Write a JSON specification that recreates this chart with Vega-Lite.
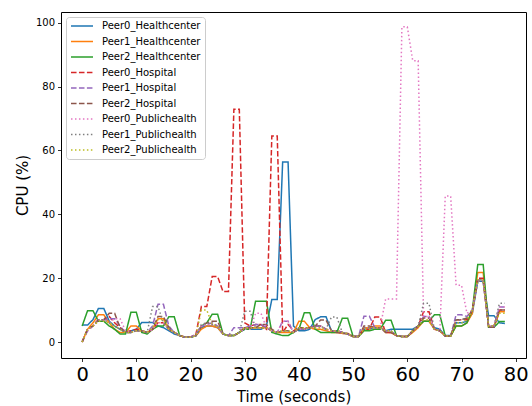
{
  "$schema": "https://vega.github.io/schema/vega-lite/v6.json",
  "width": 465,
  "height": 346,
  "autosize": {"type": "none"},
  "padding": {"left": 61, "top": 12, "right": 6, "bottom": 48},
  "background": "white",
  "config": {
    "font": "DejaVu Sans",
    "view": {"stroke": "black", "strokeWidth": 1},
    "axis": {"domain": false, "grid": false, "tickColor": "black", "tickWidth": 0.8, "tickSize": 3.5, "labelColor": "black", "titleColor": "black", "labelFont": "DejaVu Sans", "titleFont": "DejaVu Sans", "titleFontWeight": "normal", "labelOverlap": false, "labelFlush": false},
    "legend": {"orient": "top-left", "offset": 5, "title": null, "labelFont": "DejaVu Sans", "labelFontSize": 10, "labelColor": "black", "symbolType": "stroke", "symbolSize": 484, "symbolStrokeWidth": 1.5, "labelOffset": 8, "padding": 4, "rowPadding": 5.5, "clipHeight": 10, "fillColor": "rgba(255,255,255,0.8)", "strokeColor": "#cccccc", "cornerRadius": 3}
  },
  "data": {"values": [
    {"t":0,"Peer0_Healthcenter":5.3,"Peer1_Healthcenter":0,"Peer2_Healthcenter":5,"Peer0_Hospital":0,"Peer1_Hospital":0,"Peer2_Hospital":0,"Peer0_Publichealth":0,"Peer1_Publichealth":0,"Peer2_Publichealth":0},
    {"t":1,"Peer0_Healthcenter":5.3,"Peer1_Healthcenter":4,"Peer2_Healthcenter":9.8,"Peer0_Hospital":4,"Peer1_Hospital":3.5,"Peer2_Hospital":4,"Peer0_Publichealth":3.5,"Peer1_Publichealth":4,"Peer2_Publichealth":4},
    {"t":2,"Peer0_Healthcenter":7,"Peer1_Healthcenter":6,"Peer2_Healthcenter":9.8,"Peer0_Hospital":5,"Peer1_Hospital":5,"Peer2_Hospital":5,"Peer0_Publichealth":5,"Peer1_Publichealth":5,"Peer2_Publichealth":5},
    {"t":3,"Peer0_Healthcenter":10.5,"Peer1_Healthcenter":8.5,"Peer2_Healthcenter":6.5,"Peer0_Hospital":7,"Peer1_Hospital":7,"Peer2_Hospital":7,"Peer0_Publichealth":7,"Peer1_Publichealth":7,"Peer2_Publichealth":6.5},
    {"t":4,"Peer0_Healthcenter":10.5,"Peer1_Healthcenter":8.5,"Peer2_Healthcenter":6.5,"Peer0_Hospital":7,"Peer1_Hospital":7,"Peer2_Hospital":7,"Peer0_Publichealth":7,"Peer1_Publichealth":7,"Peer2_Publichealth":6.5},
    {"t":5,"Peer0_Healthcenter":6.5,"Peer1_Healthcenter":6,"Peer2_Healthcenter":5,"Peer0_Hospital":8,"Peer1_Hospital":7.3,"Peer2_Hospital":9,"Peer0_Publichealth":6,"Peer1_Publichealth":6,"Peer2_Publichealth":6},
    {"t":6,"Peer0_Healthcenter":5,"Peer1_Healthcenter":4,"Peer2_Healthcenter":4,"Peer0_Hospital":6,"Peer1_Hospital":7.3,"Peer2_Hospital":9,"Peer0_Publichealth":7.3,"Peer1_Publichealth":5,"Peer2_Publichealth":5},
    {"t":7,"Peer0_Healthcenter":4,"Peer1_Healthcenter":3,"Peer2_Healthcenter":2.5,"Peer0_Hospital":4.5,"Peer1_Hospital":5,"Peer2_Hospital":4.5,"Peer0_Publichealth":7.3,"Peer1_Publichealth":4,"Peer2_Publichealth":4},
    {"t":8,"Peer0_Healthcenter":3,"Peer1_Healthcenter":3,"Peer2_Healthcenter":2.5,"Peer0_Hospital":3,"Peer1_Hospital":3,"Peer2_Hospital":3,"Peer0_Publichealth":3.5,"Peer1_Publichealth":3,"Peer2_Publichealth":3},
    {"t":9,"Peer0_Healthcenter":3.5,"Peer1_Healthcenter":5,"Peer2_Healthcenter":9.3,"Peer0_Hospital":3.5,"Peer1_Hospital":3,"Peer2_Hospital":3,"Peer0_Publichealth":3,"Peer1_Publichealth":3,"Peer2_Publichealth":3},
    {"t":10,"Peer0_Healthcenter":4,"Peer1_Healthcenter":5,"Peer2_Healthcenter":9.3,"Peer0_Hospital":4,"Peer1_Hospital":3.5,"Peer2_Hospital":3.5,"Peer0_Publichealth":3.5,"Peer1_Publichealth":3.5,"Peer2_Publichealth":3.5},
    {"t":11,"Peer0_Healthcenter":6.1,"Peer1_Healthcenter":3.5,"Peer2_Healthcenter":3,"Peer0_Hospital":3.5,"Peer1_Hospital":3.5,"Peer2_Hospital":3.5,"Peer0_Publichealth":3.5,"Peer1_Publichealth":3.5,"Peer2_Publichealth":3.5},
    {"t":12,"Peer0_Healthcenter":6.1,"Peer1_Healthcenter":3,"Peer2_Healthcenter":2.5,"Peer0_Hospital":3,"Peer1_Hospital":3,"Peer2_Hospital":3,"Peer0_Publichealth":3,"Peer1_Publichealth":3,"Peer2_Publichealth":3},
    {"t":13,"Peer0_Healthcenter":6.1,"Peer1_Healthcenter":4,"Peer2_Healthcenter":4,"Peer0_Hospital":4,"Peer1_Hospital":5,"Peer2_Hospital":4,"Peer0_Publichealth":4,"Peer1_Publichealth":11.1,"Peer2_Publichealth":4.5},
    {"t":14,"Peer0_Healthcenter":5,"Peer1_Healthcenter":7.3,"Peer2_Healthcenter":5,"Peer0_Hospital":6,"Peer1_Hospital":11.8,"Peer2_Hospital":8,"Peer0_Publichealth":6,"Peer1_Publichealth":11.1,"Peer2_Publichealth":7},
    {"t":15,"Peer0_Healthcenter":4.5,"Peer1_Healthcenter":7.3,"Peer2_Healthcenter":5,"Peer0_Hospital":6,"Peer1_Hospital":11.8,"Peer2_Hospital":8,"Peer0_Publichealth":6,"Peer1_Publichealth":6,"Peer2_Publichealth":7},
    {"t":16,"Peer0_Healthcenter":3.5,"Peer1_Healthcenter":4,"Peer2_Healthcenter":7.9,"Peer0_Hospital":4,"Peer1_Hospital":5,"Peer2_Hospital":4.5,"Peer0_Publichealth":4,"Peer1_Publichealth":4,"Peer2_Publichealth":4},
    {"t":17,"Peer0_Healthcenter":2.5,"Peer1_Healthcenter":3,"Peer2_Healthcenter":7.9,"Peer0_Hospital":3,"Peer1_Hospital":3,"Peer2_Hospital":3,"Peer0_Publichealth":3,"Peer1_Publichealth":3,"Peer2_Publichealth":3},
    {"t":18,"Peer0_Healthcenter":2,"Peer1_Healthcenter":2,"Peer2_Healthcenter":2,"Peer0_Hospital":2,"Peer1_Hospital":2,"Peer2_Hospital":2,"Peer0_Publichealth":2,"Peer1_Publichealth":2,"Peer2_Publichealth":2},
    {"t":19,"Peer0_Healthcenter":1.5,"Peer1_Healthcenter":1.5,"Peer2_Healthcenter":1.5,"Peer0_Hospital":1.5,"Peer1_Hospital":1.5,"Peer2_Hospital":1.5,"Peer0_Publichealth":1.5,"Peer1_Publichealth":1.5,"Peer2_Publichealth":1.5},
    {"t":20,"Peer0_Healthcenter":1.5,"Peer1_Healthcenter":1.5,"Peer2_Healthcenter":1.5,"Peer0_Hospital":1.5,"Peer1_Hospital":1.5,"Peer2_Hospital":1.5,"Peer0_Publichealth":1.5,"Peer1_Publichealth":1.5,"Peer2_Publichealth":1.5},
    {"t":21,"Peer0_Healthcenter":2,"Peer1_Healthcenter":2,"Peer2_Healthcenter":2,"Peer0_Hospital":2.5,"Peer1_Hospital":2.5,"Peer2_Hospital":2,"Peer0_Publichealth":2,"Peer1_Publichealth":2,"Peer2_Publichealth":2},
    {"t":22,"Peer0_Healthcenter":4.5,"Peer1_Healthcenter":4,"Peer2_Healthcenter":5,"Peer0_Hospital":11.1,"Peer1_Hospital":5,"Peer2_Hospital":5,"Peer0_Publichealth":5,"Peer1_Publichealth":5.5,"Peer2_Publichealth":10},
    {"t":23,"Peer0_Healthcenter":5,"Peer1_Healthcenter":5,"Peer2_Healthcenter":6,"Peer0_Hospital":11.1,"Peer1_Hospital":5.5,"Peer2_Hospital":6,"Peer0_Publichealth":5.5,"Peer1_Publichealth":6,"Peer2_Publichealth":10},
    {"t":24,"Peer0_Healthcenter":5,"Peer1_Healthcenter":5,"Peer2_Healthcenter":8.7,"Peer0_Hospital":20.5,"Peer1_Hospital":6,"Peer2_Hospital":6.5,"Peer0_Publichealth":5.5,"Peer1_Publichealth":5.5,"Peer2_Publichealth":5.5},
    {"t":25,"Peer0_Healthcenter":4.5,"Peer1_Healthcenter":4.5,"Peer2_Healthcenter":8.7,"Peer0_Hospital":20.5,"Peer1_Hospital":5,"Peer2_Hospital":6.5,"Peer0_Publichealth":5,"Peer1_Publichealth":5,"Peer2_Publichealth":5},
    {"t":26,"Peer0_Healthcenter":2.5,"Peer1_Healthcenter":2.5,"Peer2_Healthcenter":2.5,"Peer0_Hospital":15.8,"Peer1_Hospital":2.5,"Peer2_Hospital":2.5,"Peer0_Publichealth":2.5,"Peer1_Publichealth":2.5,"Peer2_Publichealth":2.5},
    {"t":27,"Peer0_Healthcenter":2,"Peer1_Healthcenter":2,"Peer2_Healthcenter":2,"Peer0_Hospital":15.8,"Peer1_Hospital":2,"Peer2_Hospital":2,"Peer0_Publichealth":2,"Peer1_Publichealth":2,"Peer2_Publichealth":2},
    {"t":28,"Peer0_Healthcenter":2,"Peer1_Healthcenter":2,"Peer2_Healthcenter":2,"Peer0_Hospital":72.9,"Peer1_Hospital":4.5,"Peer2_Hospital":2,"Peer0_Publichealth":2,"Peer1_Publichealth":2,"Peer2_Publichealth":2},
    {"t":29,"Peer0_Healthcenter":3,"Peer1_Healthcenter":3,"Peer2_Healthcenter":3,"Peer0_Hospital":72.9,"Peer1_Hospital":4.5,"Peer2_Hospital":3,"Peer0_Publichealth":3,"Peer1_Publichealth":3,"Peer2_Publichealth":3},
    {"t":30,"Peer0_Healthcenter":4,"Peer1_Healthcenter":4.5,"Peer2_Healthcenter":4,"Peer0_Hospital":6,"Peer1_Hospital":4.5,"Peer2_Hospital":4.5,"Peer0_Publichealth":4,"Peer1_Publichealth":9.6,"Peer2_Publichealth":4.5},
    {"t":31,"Peer0_Healthcenter":4,"Peer1_Healthcenter":4.5,"Peer2_Healthcenter":4,"Peer0_Hospital":5,"Peer1_Hospital":5,"Peer2_Hospital":4.5,"Peer0_Publichealth":4,"Peer1_Publichealth":9.6,"Peer2_Publichealth":4.5},
    {"t":32,"Peer0_Healthcenter":4,"Peer1_Healthcenter":4.5,"Peer2_Healthcenter":12.8,"Peer0_Hospital":5.5,"Peer1_Hospital":5.5,"Peer2_Hospital":4.5,"Peer0_Publichealth":9,"Peer1_Publichealth":4.5,"Peer2_Publichealth":4.5},
    {"t":33,"Peer0_Healthcenter":4,"Peer1_Healthcenter":4.5,"Peer2_Healthcenter":12.8,"Peer0_Hospital":5.5,"Peer1_Hospital":5.5,"Peer2_Hospital":5.5,"Peer0_Publichealth":9,"Peer1_Publichealth":4.5,"Peer2_Publichealth":4.5},
    {"t":34,"Peer0_Healthcenter":5,"Peer1_Healthcenter":4.5,"Peer2_Healthcenter":12.8,"Peer0_Hospital":4,"Peer1_Hospital":4.5,"Peer2_Hospital":5.5,"Peer0_Publichealth":4.5,"Peer1_Publichealth":4.5,"Peer2_Publichealth":4.5},
    {"t":35,"Peer0_Healthcenter":13.3,"Peer1_Healthcenter":3.5,"Peer2_Healthcenter":3,"Peer0_Hospital":64.5,"Peer1_Hospital":3.5,"Peer2_Hospital":4,"Peer0_Publichealth":3.5,"Peer1_Publichealth":3.5,"Peer2_Publichealth":3.5},
    {"t":36,"Peer0_Healthcenter":13.3,"Peer1_Healthcenter":3,"Peer2_Healthcenter":2.5,"Peer0_Hospital":64.5,"Peer1_Hospital":3,"Peer2_Hospital":3,"Peer0_Publichealth":3,"Peer1_Publichealth":3,"Peer2_Publichealth":3},
    {"t":37,"Peer0_Healthcenter":56.4,"Peer1_Healthcenter":3,"Peer2_Healthcenter":2,"Peer0_Hospital":3,"Peer1_Hospital":6.5,"Peer2_Hospital":3.5,"Peer0_Publichealth":6.5,"Peer1_Publichealth":3.5,"Peer2_Publichealth":3.5},
    {"t":38,"Peer0_Healthcenter":56.4,"Peer1_Healthcenter":3,"Peer2_Healthcenter":2,"Peer0_Hospital":5.5,"Peer1_Hospital":6.5,"Peer2_Hospital":3.5,"Peer0_Publichealth":6.5,"Peer1_Publichealth":3.5,"Peer2_Publichealth":3.5},
    {"t":39,"Peer0_Healthcenter":5,"Peer1_Healthcenter":3,"Peer2_Healthcenter":3,"Peer0_Hospital":3.5,"Peer1_Hospital":3,"Peer2_Hospital":3,"Peer0_Publichealth":3,"Peer1_Publichealth":3,"Peer2_Publichealth":3},
    {"t":40,"Peer0_Healthcenter":3.5,"Peer1_Healthcenter":6.5,"Peer2_Healthcenter":4,"Peer0_Hospital":4,"Peer1_Hospital":4,"Peer2_Hospital":4.5,"Peer0_Publichealth":4,"Peer1_Publichealth":4,"Peer2_Publichealth":4.5},
    {"t":41,"Peer0_Healthcenter":3.5,"Peer1_Healthcenter":6.5,"Peer2_Healthcenter":9.2,"Peer0_Hospital":4,"Peer1_Hospital":4,"Peer2_Hospital":4.5,"Peer0_Publichealth":4,"Peer1_Publichealth":4,"Peer2_Publichealth":4.5},
    {"t":42,"Peer0_Healthcenter":4,"Peer1_Healthcenter":4.5,"Peer2_Healthcenter":9.2,"Peer0_Hospital":4.5,"Peer1_Hospital":4.5,"Peer2_Hospital":4.5,"Peer0_Publichealth":4.5,"Peer1_Publichealth":4.5,"Peer2_Publichealth":4.5},
    {"t":43,"Peer0_Healthcenter":7,"Peer1_Healthcenter":4,"Peer2_Healthcenter":4,"Peer0_Hospital":5,"Peer1_Hospital":5,"Peer2_Hospital":5,"Peer0_Publichealth":4.5,"Peer1_Publichealth":5,"Peer2_Publichealth":4.5},
    {"t":44,"Peer0_Healthcenter":7.9,"Peer1_Healthcenter":4,"Peer2_Healthcenter":3,"Peer0_Hospital":5,"Peer1_Hospital":5,"Peer2_Hospital":6.9,"Peer0_Publichealth":4.5,"Peer1_Publichealth":5,"Peer2_Publichealth":4.5},
    {"t":45,"Peer0_Healthcenter":7.9,"Peer1_Healthcenter":3.5,"Peer2_Healthcenter":3,"Peer0_Hospital":4,"Peer1_Hospital":4,"Peer2_Hospital":6.9,"Peer0_Publichealth":4,"Peer1_Publichealth":4,"Peer2_Publichealth":4},
    {"t":46,"Peer0_Healthcenter":3.5,"Peer1_Healthcenter":3,"Peer2_Healthcenter":3,"Peer0_Hospital":3.5,"Peer1_Hospital":3.5,"Peer2_Hospital":3.5,"Peer0_Publichealth":3.5,"Peer1_Publichealth":7.8,"Peer2_Publichealth":3.5},
    {"t":47,"Peer0_Healthcenter":3.5,"Peer1_Healthcenter":3,"Peer2_Healthcenter":3,"Peer0_Hospital":3.5,"Peer1_Hospital":3.5,"Peer2_Hospital":3,"Peer0_Publichealth":3.5,"Peer1_Publichealth":7.8,"Peer2_Publichealth":3.5},
    {"t":48,"Peer0_Healthcenter":3,"Peer1_Healthcenter":2.7,"Peer2_Healthcenter":7.4,"Peer0_Hospital":3,"Peer1_Hospital":3,"Peer2_Hospital":2.7,"Peer0_Publichealth":3,"Peer1_Publichealth":3,"Peer2_Publichealth":3},
    {"t":49,"Peer0_Healthcenter":2.5,"Peer1_Healthcenter":2.7,"Peer2_Healthcenter":7.4,"Peer0_Hospital":2.5,"Peer1_Hospital":2.5,"Peer2_Hospital":2.7,"Peer0_Publichealth":2.5,"Peer1_Publichealth":2.5,"Peer2_Publichealth":2.5},
    {"t":50,"Peer0_Healthcenter":1.7,"Peer1_Healthcenter":1.7,"Peer2_Healthcenter":1.7,"Peer0_Hospital":1.7,"Peer1_Hospital":1.7,"Peer2_Hospital":1.7,"Peer0_Publichealth":1.7,"Peer1_Publichealth":1.7,"Peer2_Publichealth":1.7},
    {"t":51,"Peer0_Healthcenter":1.7,"Peer1_Healthcenter":1.7,"Peer2_Healthcenter":1.7,"Peer0_Hospital":1.7,"Peer1_Hospital":1.7,"Peer2_Hospital":1.7,"Peer0_Publichealth":1.7,"Peer1_Publichealth":1.7,"Peer2_Publichealth":1.7},
    {"t":52,"Peer0_Healthcenter":4,"Peer1_Healthcenter":4.5,"Peer2_Healthcenter":3.5,"Peer0_Hospital":4,"Peer1_Hospital":8.1,"Peer2_Hospital":5,"Peer0_Publichealth":4.5,"Peer1_Publichealth":4.5,"Peer2_Publichealth":4},
    {"t":53,"Peer0_Healthcenter":4,"Peer1_Healthcenter":4.5,"Peer2_Healthcenter":3.5,"Peer0_Hospital":4,"Peer1_Hospital":8.1,"Peer2_Hospital":5,"Peer0_Publichealth":4.5,"Peer1_Publichealth":4.5,"Peer2_Publichealth":4},
    {"t":54,"Peer0_Healthcenter":4.5,"Peer1_Healthcenter":5,"Peer2_Healthcenter":4,"Peer0_Hospital":7.8,"Peer1_Hospital":4.5,"Peer2_Hospital":4.5,"Peer0_Publichealth":4.5,"Peer1_Publichealth":4.5,"Peer2_Publichealth":4.5},
    {"t":55,"Peer0_Healthcenter":4.5,"Peer1_Healthcenter":5,"Peer2_Healthcenter":4,"Peer0_Hospital":7.8,"Peer1_Hospital":4.5,"Peer2_Hospital":4.5,"Peer0_Publichealth":4.5,"Peer1_Publichealth":4.5,"Peer2_Publichealth":4.5},
    {"t":56,"Peer0_Healthcenter":3.5,"Peer1_Healthcenter":3,"Peer2_Healthcenter":6.8,"Peer0_Hospital":3,"Peer1_Hospital":3.5,"Peer2_Hospital":3,"Peer0_Publichealth":13.5,"Peer1_Publichealth":3.5,"Peer2_Publichealth":3.5},
    {"t":57,"Peer0_Healthcenter":4,"Peer1_Healthcenter":3,"Peer2_Healthcenter":6.8,"Peer0_Hospital":3,"Peer1_Hospital":3.5,"Peer2_Hospital":3,"Peer0_Publichealth":13.5,"Peer1_Publichealth":3.5,"Peer2_Publichealth":3.5},
    {"t":58,"Peer0_Healthcenter":4,"Peer1_Healthcenter":2,"Peer2_Healthcenter":2,"Peer0_Hospital":2,"Peer1_Hospital":2,"Peer2_Hospital":2,"Peer0_Publichealth":13.5,"Peer1_Publichealth":2,"Peer2_Publichealth":2},
    {"t":59,"Peer0_Healthcenter":4,"Peer1_Healthcenter":1.7,"Peer2_Healthcenter":1.7,"Peer0_Hospital":1.7,"Peer1_Hospital":1.7,"Peer2_Hospital":1.7,"Peer0_Publichealth":98.7,"Peer1_Publichealth":1.7,"Peer2_Publichealth":1.7},
    {"t":60,"Peer0_Healthcenter":4,"Peer1_Healthcenter":1.7,"Peer2_Healthcenter":1.7,"Peer0_Hospital":1.7,"Peer1_Hospital":1.7,"Peer2_Hospital":1.7,"Peer0_Publichealth":98.7,"Peer1_Publichealth":1.7,"Peer2_Publichealth":1.7},
    {"t":61,"Peer0_Healthcenter":4,"Peer1_Healthcenter":3,"Peer2_Healthcenter":3.5,"Peer0_Hospital":3.5,"Peer1_Hospital":3.5,"Peer2_Hospital":3.5,"Peer0_Publichealth":88.1,"Peer1_Publichealth":3.5,"Peer2_Publichealth":3.5},
    {"t":62,"Peer0_Healthcenter":5,"Peer1_Healthcenter":4.5,"Peer2_Healthcenter":5,"Peer0_Hospital":5,"Peer1_Hospital":5,"Peer2_Hospital":5,"Peer0_Publichealth":88.1,"Peer1_Publichealth":5,"Peer2_Publichealth":5},
    {"t":63,"Peer0_Healthcenter":6.5,"Peer1_Healthcenter":6.5,"Peer2_Healthcenter":6.5,"Peer0_Hospital":9.5,"Peer1_Hospital":8,"Peer2_Hospital":7.5,"Peer0_Publichealth":8,"Peer1_Publichealth":12.1,"Peer2_Publichealth":7},
    {"t":64,"Peer0_Healthcenter":6.5,"Peer1_Healthcenter":6.5,"Peer2_Healthcenter":6.5,"Peer0_Hospital":9.5,"Peer1_Hospital":8,"Peer2_Hospital":7.5,"Peer0_Publichealth":8,"Peer1_Publichealth":12.1,"Peer2_Publichealth":7},
    {"t":65,"Peer0_Healthcenter":4.5,"Peer1_Healthcenter":4,"Peer2_Healthcenter":8.5,"Peer0_Hospital":4,"Peer1_Hospital":4,"Peer2_Hospital":4,"Peer0_Publichealth":4,"Peer1_Publichealth":4,"Peer2_Publichealth":4},
    {"t":66,"Peer0_Healthcenter":4,"Peer1_Healthcenter":3.5,"Peer2_Healthcenter":8.5,"Peer0_Hospital":3.5,"Peer1_Hospital":3.5,"Peer2_Hospital":3.5,"Peer0_Publichealth":3.5,"Peer1_Publichealth":3.5,"Peer2_Publichealth":3.5},
    {"t":67,"Peer0_Healthcenter":2,"Peer1_Healthcenter":1.9,"Peer2_Healthcenter":1.9,"Peer0_Hospital":1.9,"Peer1_Hospital":1.9,"Peer2_Hospital":1.9,"Peer0_Publichealth":45.7,"Peer1_Publichealth":1.9,"Peer2_Publichealth":1.9},
    {"t":68,"Peer0_Healthcenter":2,"Peer1_Healthcenter":1.9,"Peer2_Healthcenter":1.9,"Peer0_Hospital":1.9,"Peer1_Hospital":1.9,"Peer2_Hospital":1.9,"Peer0_Publichealth":45.7,"Peer1_Publichealth":1.9,"Peer2_Publichealth":1.9},
    {"t":69,"Peer0_Healthcenter":6,"Peer1_Healthcenter":5,"Peer2_Healthcenter":5,"Peer0_Hospital":7,"Peer1_Hospital":8.5,"Peer2_Hospital":7,"Peer0_Publichealth":17.8,"Peer1_Publichealth":7,"Peer2_Publichealth":6},
    {"t":70,"Peer0_Healthcenter":6,"Peer1_Healthcenter":5,"Peer2_Healthcenter":5,"Peer0_Hospital":7,"Peer1_Hospital":8.5,"Peer2_Hospital":7,"Peer0_Publichealth":17.8,"Peer1_Publichealth":7,"Peer2_Publichealth":6},
    {"t":71,"Peer0_Healthcenter":6.5,"Peer1_Healthcenter":6,"Peer2_Healthcenter":6,"Peer0_Hospital":7,"Peer1_Hospital":8,"Peer2_Hospital":7.5,"Peer0_Publichealth":9,"Peer1_Publichealth":7.5,"Peer2_Publichealth":7},
    {"t":72,"Peer0_Healthcenter":9,"Peer1_Healthcenter":9,"Peer2_Healthcenter":10,"Peer0_Hospital":10,"Peer1_Hospital":10,"Peer2_Hospital":10,"Peer0_Publichealth":10,"Peer1_Publichealth":10,"Peer2_Publichealth":10},
    {"t":73,"Peer0_Healthcenter":19,"Peer1_Healthcenter":21.8,"Peer2_Healthcenter":24.3,"Peer0_Hospital":20,"Peer1_Hospital":19.5,"Peer2_Hospital":19,"Peer0_Publichealth":19,"Peer1_Publichealth":19,"Peer2_Publichealth":19.5},
    {"t":74,"Peer0_Healthcenter":19,"Peer1_Healthcenter":21.8,"Peer2_Healthcenter":24.3,"Peer0_Hospital":20,"Peer1_Hospital":19.5,"Peer2_Hospital":19,"Peer0_Publichealth":19,"Peer1_Publichealth":19,"Peer2_Publichealth":19.5},
    {"t":75,"Peer0_Healthcenter":8.2,"Peer1_Healthcenter":4.6,"Peer2_Healthcenter":4.6,"Peer0_Hospital":5,"Peer1_Hospital":4.8,"Peer2_Hospital":4.6,"Peer0_Publichealth":5,"Peer1_Publichealth":5,"Peer2_Publichealth":5},
    {"t":76,"Peer0_Healthcenter":8.2,"Peer1_Healthcenter":4.6,"Peer2_Healthcenter":4.6,"Peer0_Hospital":5,"Peer1_Hospital":4.8,"Peer2_Hospital":4.6,"Peer0_Publichealth":5,"Peer1_Publichealth":5,"Peer2_Publichealth":5},
    {"t":77,"Peer0_Healthcenter":6,"Peer1_Healthcenter":9.5,"Peer2_Healthcenter":6.4,"Peer0_Hospital":10,"Peer1_Hospital":11,"Peer2_Hospital":10,"Peer0_Publichealth":11,"Peer1_Publichealth":12.1,"Peer2_Publichealth":9},
    {"t":78,"Peer0_Healthcenter":5.8,"Peer1_Healthcenter":9.5,"Peer2_Healthcenter":6.4,"Peer0_Hospital":10,"Peer1_Hospital":11,"Peer2_Hospital":10,"Peer0_Publichealth":11,"Peer1_Publichealth":12.1,"Peer2_Publichealth":9}
  ]},
  "transform": [
    {"fold": ["Peer0_Healthcenter","Peer1_Healthcenter","Peer2_Healthcenter","Peer0_Hospital","Peer1_Hospital","Peer2_Hospital","Peer0_Publichealth","Peer1_Publichealth","Peer2_Publichealth"], "as": ["series", "cpu"]}
  ],
  "mark": {"type": "line", "strokeWidth": 1.5, "interpolate": "linear"},
  "encoding": {
    "x": {
      "field": "t", "type": "quantitative",
      "scale": {"domain": [-3.9, 81.9], "nice": false, "zero": false},
      "axis": {"values": [0,10,20,30,40,50,60,70,80], "title": "Time (seconds)", "labelFontSize": 19.5, "labelPadding": 4, "titleFontSize": 15, "titleX": 232.5, "titleY": 43, "titleBaseline": "alphabetic", "titleAnchor": "middle", "titleAlign": "center"}
    },
    "y": {
      "field": "cpu", "type": "quantitative",
      "scale": {"domain": [-5.01, 103.35], "nice": false, "zero": false},
      "axis": {"values": [0,20,40,60,80,100], "title": "CPU (%)", "labelFontSize": 10, "labelPadding": 3, "titleFontSize": 15, "titleX": -38.5, "titleY": 173, "titleAngle": 270, "titleBaseline": "middle", "titleAlign": "center", "titleAnchor": "middle"}
    },
    "color": {
      "field": "series", "type": "nominal",
      "scale": {"domain": ["Peer0_Healthcenter","Peer1_Healthcenter","Peer2_Healthcenter","Peer0_Hospital","Peer1_Hospital","Peer2_Hospital","Peer0_Publichealth","Peer1_Publichealth","Peer2_Publichealth"],
                "range": ["#1f77b4","#ff7f0e","#2ca02c","#d62728","#9467bd","#8c564b","#e377c2","#7f7f7f","#bcbd22"]},
      "legend": {"title": null}
    },
    "strokeDash": {
      "field": "series", "type": "nominal",
      "scale": {"domain": ["Peer0_Healthcenter","Peer1_Healthcenter","Peer2_Healthcenter","Peer0_Hospital","Peer1_Hospital","Peer2_Hospital","Peer0_Publichealth","Peer1_Publichealth","Peer2_Publichealth"],
                "range": [[1,0],[1,0],[1,0],[5.55,2.4],[5.55,2.4],[5.55,2.4],[1.5,2.475],[1.5,2.475],[1.5,2.475]]},
      "legend": {"title": null}
    }
  }
}
